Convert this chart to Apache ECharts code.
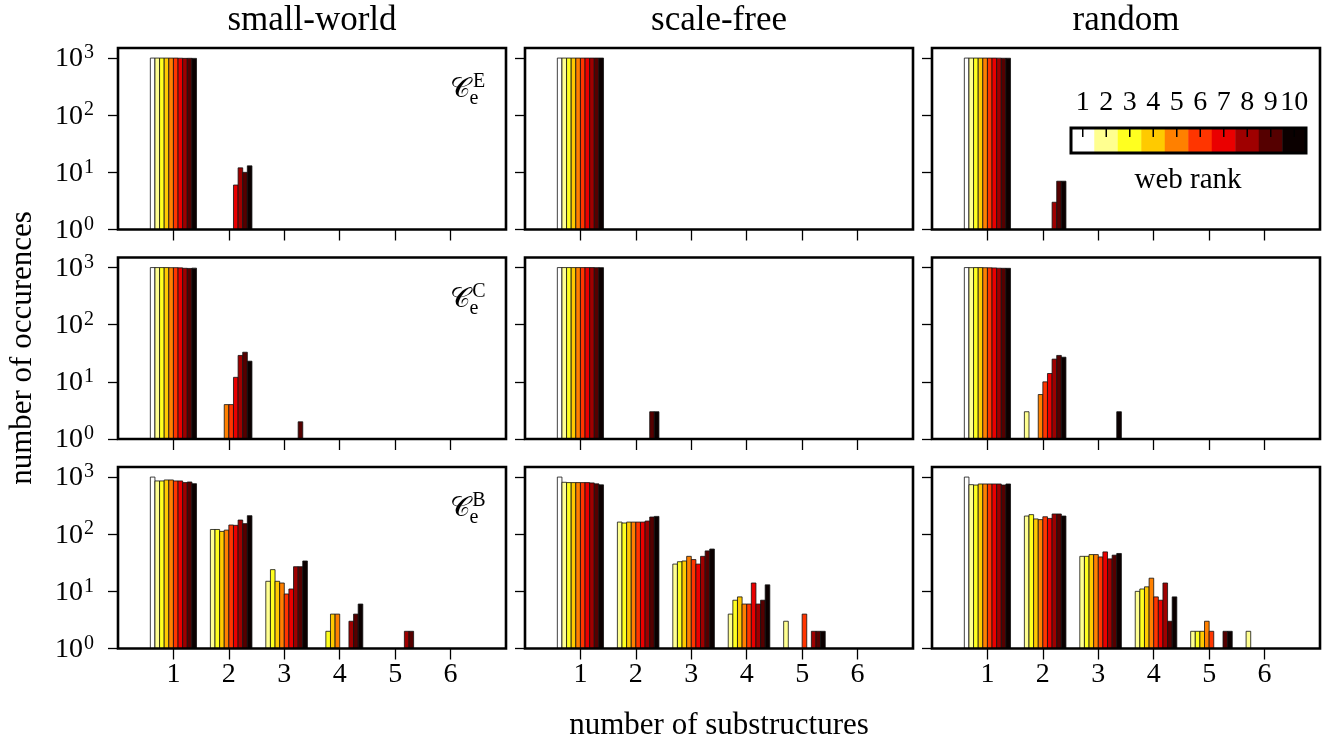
<!DOCTYPE html>
<html>
<head>
<meta charset="utf-8">
<script src="https://cdn.jsdelivr.net/npm/echarts@6/dist/echarts.min.js"></script>
<style>
  html, body { margin: 0; padding: 0; background: #ffffff; }
  #chart { width: 1322px; height: 739px; }
</style>
</head>
<body>
<div id="chart"></div>
<script>
// ---- data -------------------------------------------------------------
const SUBSTRUCTURES = [1, 2, 3, 4, 5, 6];
const RANKS = ['1', '2', '3', '4', '5', '6', '7', '8', '9', '10'];
const NETWORK_TYPES = ['small-world', 'scale-free', 'random'];
const MEASURES = ['E', 'C', 'B'];
const Y_TICKS = [1, 10, 100, 1000];

// one row per number of substructures (1..6), one column per web rank (1..10)
const smallWorldE = [
  [1000, 1000, 1000, 1000, 1000, 1000, 994, 988, 990, 987],
  [0, 0, 0, 0, 0, 0, 6, 12, 10, 13],
  [0, 0, 0, 0, 0, 0, 0, 0, 0, 0],
  [0, 0, 0, 0, 0, 0, 0, 0, 0, 0],
  [0, 0, 0, 0, 0, 0, 0, 0, 0, 0],
  [0, 0, 0, 0, 0, 0, 0, 0, 0, 0]
];
const scaleFreeE = [
  [1000, 1000, 1000, 1000, 1000, 1000, 1000, 1000, 1000, 1000],
  [0, 0, 0, 0, 0, 0, 0, 0, 0, 0],
  [0, 0, 0, 0, 0, 0, 0, 0, 0, 0],
  [0, 0, 0, 0, 0, 0, 0, 0, 0, 0],
  [0, 0, 0, 0, 0, 0, 0, 0, 0, 0],
  [0, 0, 0, 0, 0, 0, 0, 0, 0, 0]
];
const randomE = [
  [1000, 1000, 1000, 1000, 1000, 1000, 1000, 997, 993, 993],
  [0, 0, 0, 0, 0, 0, 0, 3, 7, 7],
  [0, 0, 0, 0, 0, 0, 0, 0, 0, 0],
  [0, 0, 0, 0, 0, 0, 0, 0, 0, 0],
  [0, 0, 0, 0, 0, 0, 0, 0, 0, 0],
  [0, 0, 0, 0, 0, 0, 0, 0, 0, 0]
];
const smallWorldC = [
  [1000, 1000, 1000, 1000, 996, 996, 988, 971, 965, 977],
  [0, 0, 0, 0, 4, 4, 12, 29, 33, 23],
  [0, 0, 0, 0, 0, 0, 0, 0, 2, 0],
  [0, 0, 0, 0, 0, 0, 0, 0, 0, 0],
  [0, 0, 0, 0, 0, 0, 0, 0, 0, 0],
  [0, 0, 0, 0, 0, 0, 0, 0, 0, 0]
];
const scaleFreeC = [
  [1000, 1000, 1000, 1000, 1000, 1000, 1000, 1000, 997, 997],
  [0, 0, 0, 0, 0, 0, 0, 0, 3, 3],
  [0, 0, 0, 0, 0, 0, 0, 0, 0, 0],
  [0, 0, 0, 0, 0, 0, 0, 0, 0, 0],
  [0, 0, 0, 0, 0, 0, 0, 0, 0, 0],
  [0, 0, 0, 0, 0, 0, 0, 0, 0, 0]
];
const randomC = [
  [1000, 997, 1000, 1000, 994, 990, 986, 975, 971, 970],
  [0, 3, 0, 0, 6, 10, 14, 25, 29, 27],
  [0, 0, 0, 0, 0, 0, 0, 0, 0, 3],
  [0, 0, 0, 0, 0, 0, 0, 0, 0, 0],
  [0, 0, 0, 0, 0, 0, 0, 0, 0, 0],
  [0, 0, 0, 0, 0, 0, 0, 0, 0, 0]
];
const smallWorldB = [
  [1000, 855, 855, 890, 890, 855, 855, 800, 820, 766],
  [0, 121, 121, 112, 118, 145, 143, 177, 153, 211],
  [0, 15, 24, 15, 14, 9, 11, 27, 27, 34],
  [0, 0, 2, 4, 4, 0, 0, 3, 4, 6],
  [0, 0, 0, 0, 0, 0, 0, 2, 2, 0],
  [0, 0, 0, 0, 0, 0, 0, 0, 0, 0]
];
const scaleFreeB = [
  [1000, 810, 800, 800, 800, 800, 800, 790, 760, 730],
  [0, 163, 157, 163, 163, 163, 163, 170, 200, 205],
  [0, 30, 33, 34, 41, 36, 30, 41, 51, 55],
  [0, 4, 7, 8, 6, 6, 14, 6, 7, 13],
  [0, 3, 0, 0, 0, 4, 0, 2, 2, 2],
  [0, 0, 0, 0, 0, 0, 0, 0, 0, 0]
];
const randomB = [
  [1000, 736, 725, 757, 757, 757, 757, 757, 725, 757],
  [0, 208, 220, 185, 180, 202, 189, 226, 226, 208],
  [0, 41, 41, 44, 44, 40, 49, 37, 43, 46],
  [0, 10, 11, 12, 17, 8, 7, 14, 3, 8],
  [0, 2, 2, 2, 3, 2, 0, 0, 2, 2],
  [0, 2, 0, 0, 0, 0, 0, 0, 0, 0]
];

// panels in reading order: rows = measure, columns = network type
const PANELS = [
  [smallWorldE, scaleFreeE, randomE],
  [smallWorldC, scaleFreeC, randomC],
  [smallWorldB, scaleFreeB, randomB]
];

// discrete "hot" palette, light for the best rank, dark for the worst
const RANK_COLORS = ['#ffffff', '#ffff90', '#ffff20', '#ffca00', '#ff8000',
                     '#ff3500', '#ea0000', '#9f0000', '#550000', '#0b0000'];

// ---- layout ---------------------------------------------------------------
const SERIF = '"Liberation Serif", "DejaVu Serif", serif';
const COL_LEFT = [118, 525, 932];
const ROW_TOP = [48, 257.5, 467];
const PANEL_W = 388;
const PANEL_H = 181.5;
const BAR_WIDTH = 1 / 12;           // in substructure units
const GROUP_WIDTH = BAR_WIDTH * RANKS.length;

function renderBar(params, api) {
  const x = api.value(0);
  const rank = api.value(1);
  const v = api.value(2);
  const x0 = x - GROUP_WIDTH / 2 + (rank - 1) * BAR_WIDTH;
  const pTop = api.coord([x0, v]);
  const pBot = api.coord([x0 + BAR_WIDTH, 1]);
  return {
    type: 'rect',
    shape: { x: pTop[0], y: pTop[1], width: pBot[0] - pTop[0], height: pBot[1] - pTop[1] },
    style: { fill: RANK_COLORS[rank - 1], stroke: '#111', lineWidth: 0.8 }
  };
}

// one colour block of the rank colour bar, with its tick hanging from the top edge
function renderColorBlock(params, api) {
  const i = api.value(0);
  const top = api.coord([i, 1]);
  const bottom = api.coord([i, 0]);
  const w = api.size([1, 0])[0];
  return {
    type: 'group',
    children: [
      {
        type: 'rect',
        shape: { x: top[0] - w / 2, y: top[1], width: w, height: bottom[1] - top[1] },
        style: { fill: RANK_COLORS[i], stroke: RANK_COLORS[i], lineWidth: 0.5 }
      },
      {
        type: 'line',
        shape: { x1: top[0], y1: top[1], x2: top[0], y2: top[1] + 9 },
        style: { stroke: '#000', lineWidth: 1.5 }
      }
    ]
  };
}

const grids = [], xAxes = [], yAxes = [], series = [];

PANELS.forEach((row, r) => {
  row.forEach((matrix, c) => {
    const idx = grids.length;
    grids.push({
      left: COL_LEFT[c], top: ROW_TOP[r], width: PANEL_W, height: PANEL_H,
      show: true, backgroundColor: 'rgba(0,0,0,0)',
      borderColor: '#000', borderWidth: 2.6, z: 10,
      containLabel: false, outerBoundsMode: 'none'
    });
    xAxes.push({
      type: 'value', gridIndex: idx, min: 0, max: 7, interval: 1,
      axisLine: { show: false, onZero: false },
      splitLine: { show: false },
      axisTick: { show: true, length: 11, customValues: SUBSTRUCTURES,
                  lineStyle: { color: '#000', width: 1.3 } },
      axisLabel: {
        show: r === 2, customValues: SUBSTRUCTURES, margin: 12,
        color: '#000', fontFamily: SERIF, fontSize: 28
      }
    });
    yAxes.push({
      type: 'log', logBase: 10, gridIndex: idx, min: 1, max: 1500,
      axisLine: { show: false, onZero: false },
      splitLine: { show: false },
      minorTick: { show: false },
      axisTick: { show: true, length: 10, customValues: Y_TICKS,
                  lineStyle: { color: '#000', width: 1.3 } },
      axisLabel: {
        show: c === 0, customValues: Y_TICKS, margin: 24,
        formatter: v => '{b|10}{s|' + Math.round(Math.log10(v)) + '}',
        rich: {
          b: { fontFamily: SERIF, fontSize: 28, color: '#000', lineHeight: 30, verticalAlign: 'bottom' },
          s: { fontFamily: SERIF, fontSize: 20, color: '#000', lineHeight: 30, verticalAlign: 'top', padding: [0, 0, 0, 1] }
        }
      }
    });
    const data = [];
    matrix.forEach((vals, s) => {
      vals.forEach((v, k) => {
        if (v > 0) data.push([SUBSTRUCTURES[s], k + 1, v]);
      });
    });
    series.push({
      type: 'custom', xAxisIndex: idx, yAxisIndex: idx,
      encode: { x: 0, y: 2 }, renderItem: renderBar, data: data,
      silent: true, z: 2
    });
  });
});

// colour bar for web rank, placed inside the top-right panel
const cbIdx = grids.length;
grids.push({
  left: 1071, top: 128, width: 235, height: 25,
  show: true, backgroundColor: 'rgba(0,0,0,0)',
  borderColor: '#000', borderWidth: 3, z: 10,
  containLabel: false, outerBoundsMode: 'none'
});
xAxes.push({
  type: 'category', gridIndex: cbIdx, data: RANKS, position: 'top',
  axisLine: { show: false, onZero: false },
  axisTick: { show: false },
  axisLabel: { interval: 0, margin: 11, color: '#000', fontFamily: SERIF, fontSize: 28 }
});
yAxes.push({ type: 'value', gridIndex: cbIdx, min: 0, max: 1, show: false });
series.push({
  type: 'custom', xAxisIndex: cbIdx, yAxisIndex: cbIdx,
  encode: { x: 0, y: 1 }, renderItem: renderColorBlock, silent: true, z: 2,
  data: RANKS.map((r, i) => [i, 1])
});

// ---- text -----------------------------------------------------------------
function label(text, x, y, size, extra) {
  return Object.assign({
    type: 'text', x: x, y: y, silent: true, z: 20,
    style: {
      text: text, fill: '#000', font: size + 'px ' + SERIF,
      align: 'center', verticalAlign: 'middle',
      textAlign: 'center', textVerticalAlign: 'middle'
    }
  }, extra || {});
}

const graphics = [];
NETWORK_TYPES.forEach((name, c) => {
  graphics.push(label(name, COL_LEFT[c] + PANEL_W / 2, 21, 35));
});
graphics.push(label('number of occurences', 23, 348, 31, { rotation: Math.PI / 2 }));
graphics.push(label('number of substructures', 719, 726, 31));
graphics.push(label('web rank', 1188, 180, 29));

MEASURES.forEach((m, r) => {
  const top = ROW_TOP[r];
  graphics.push(label('\u{1D49E}', 460, top + 42, 28));
  graphics.push(label(m, 479, top + 34, 20));
  graphics.push(label('e', 474, top + 51, 20));
});

const chart = echarts.init(document.getElementById('chart'), null, { renderer: 'canvas' });
chart.setOption({
  animation: false,
  backgroundColor: '#ffffff',
  grid: grids,
  xAxis: xAxes,
  yAxis: yAxes,
  series: series,
  graphic: graphics
});
</script>
</body>
</html>
